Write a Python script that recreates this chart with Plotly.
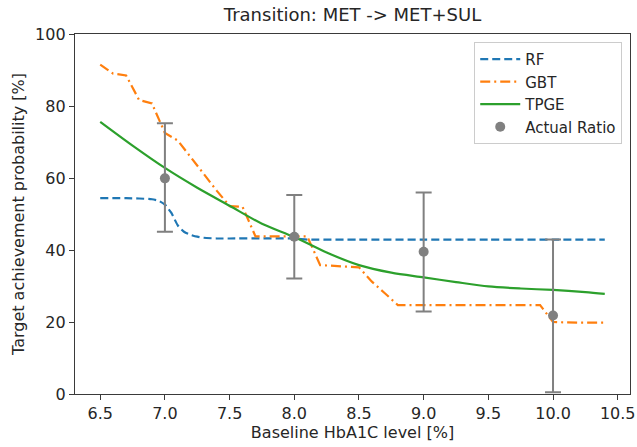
import plotly.graph_objects as go

# ---- data ----
rf_x = [6.5, 6.6, 6.7, 6.8, 6.9, 6.95, 7.0, 7.05, 7.1, 7.15, 7.2, 7.25, 7.3, 7.4, 7.5, 8.0, 8.1, 8.5, 9.0, 9.5, 10.0, 10.4]
rf_y = [54.4, 54.4, 54.4, 54.3, 54.1, 53.7, 52.6, 50.3, 46.8, 45.0, 44.2, 43.7, 43.4, 43.2, 43.2, 43.2, 42.9, 42.9, 42.9, 42.9, 42.9, 42.9]

gbt_x = [6.5, 6.6, 6.7, 6.8, 6.9, 7.0, 7.1, 7.2, 7.3, 7.4, 7.5, 7.6, 7.7, 7.8, 7.9, 8.0, 8.1, 8.2, 8.3, 8.4,
         8.5, 8.6, 8.7, 8.8, 8.9, 9.0, 9.1, 9.2, 9.3, 9.4, 9.5, 9.6, 9.7, 9.8, 9.9, 10.0, 10.1, 10.2, 10.3, 10.4]
gbt_y = [91.5, 89.0, 88.5, 81.7, 80.7, 72.5, 70.4, 65.7, 60.9, 56.5, 52.2, 52.0, 43.8, 43.8, 43.8, 43.8, 43.8, 35.8, 35.5, 35.4,
         35.2, 31.2, 28.0, 24.7, 24.7, 24.7, 24.7, 24.7, 24.7, 24.7, 24.7, 24.7, 24.7, 24.7, 24.7, 20.0, 19.8, 19.8, 19.8, 19.8]

tpge_x = [6.5, 6.75, 7.0, 7.25, 7.5, 7.75, 8.0, 8.25, 8.5, 8.75, 9.0, 9.25, 9.5, 9.75, 10.0, 10.25, 10.4]
tpge_y = [75.6, 69.0, 62.8, 57.3, 52.3, 47.3, 43.6, 39.3, 35.8, 33.7, 32.4, 31.1, 29.9, 29.3, 28.9, 28.3, 27.8]

act_x = [7.0, 8.0, 9.0, 10.0]
act_y = [59.9, 43.7, 39.5, 21.8]
act_hi = [75.2, 55.3, 56.0, 42.9]
act_lo = [45.1, 32.1, 22.9, 0.5]

x_ticks = [6.5, 7.0, 7.5, 8.0, 8.5, 9.0, 9.5, 10.0, 10.5]
y_ticks = [0, 20, 40, 60, 80, 100]

FONT = "DejaVu Sans"
TXT = "#262626"
AX = "#3a3a3a"

fig = go.Figure()
fig.add_trace(go.Scatter(x=rf_x, y=rf_y, mode="lines", name="RF",
                         line=dict(color="#1f77b4", width=2.2, dash="8px,4px", shape="spline", smoothing=0.5)))
fig.add_trace(go.Scatter(x=gbt_x, y=gbt_y, mode="lines", name="GBT",
                         line=dict(color="#ff7f0e", width=2.2, dash="10px,4px,2px,4px")))
fig.add_trace(go.Scatter(x=tpge_x, y=tpge_y, mode="lines", name="TPGE",
                         line=dict(color="#2ca02c", width=2.2, shape="spline", smoothing=0.8)))
fig.add_trace(go.Scatter(
    x=act_x, y=act_y, mode="markers", name="Actual Ratio",
    marker=dict(color="#808080", size=10),
    error_y=dict(type="data", symmetric=False,
                 array=[h - v for h, v in zip(act_hi, act_y)],
                 arrayminus=[v - l for v, l in zip(act_y, act_lo)],
                 color="#808080", thickness=2, width=8)))

fig.update_layout(
    width=637, height=447,
    margin=dict(l=75, r=7, t=34, b=53, autoexpand=False),
    paper_bgcolor="white", plot_bgcolor="white",
    font=dict(family=FONT, size=16, color=TXT),
    title=dict(text="Transition: MET -> MET+SUL", x=0.5, xref="paper", xanchor="center",
               y=1 - 15 / 447, yref="container", yanchor="middle",
               font=dict(family=FONT, size=18, color=TXT)),
    showlegend=True,
    legend=dict(x=0.986, y=0.978, xanchor="right", yanchor="top",
                bgcolor="white", bordercolor="#cccccc", borderwidth=1, itemwidth=40,
                font=dict(family=FONT, size=15, color=TXT)),
    xaxis=dict(range=[6.305, 10.595], tickvals=x_ticks, ticktext=[f"{v:.1f}" for v in x_ticks],
               automargin=False,
               showgrid=False, zeroline=False, showline=True, mirror=True, linecolor=AX, linewidth=1.3,
               ticks="outside", ticklen=5, tickcolor=AX, tickwidth=1.3,
               tickfont=dict(family=FONT, size=16, color=TXT),
               title=dict(text="Baseline HbA1C level [%]", font=dict(family=FONT, size=16, color=TXT), standoff=4)),
    yaxis=dict(range=[0, 100], tickvals=y_ticks, ticktext=[str(v) for v in y_ticks],
               automargin=False,
               showgrid=False, zeroline=False, showline=True, mirror=True, linecolor=AX, linewidth=1.3,
               ticks="outside", ticklen=5, tickcolor=AX, tickwidth=1.3,
               tickfont=dict(family=FONT, size=16, color=TXT),
               title=dict(text="Target achievement probability [%]", font=dict(family=FONT, size=16, color=TXT), standoff=6)),
)

fig.write_html("out.html", config={"displayModeBar": False},
               post_script="document.body.style.margin='0';document.body.style.overflow='hidden';")
